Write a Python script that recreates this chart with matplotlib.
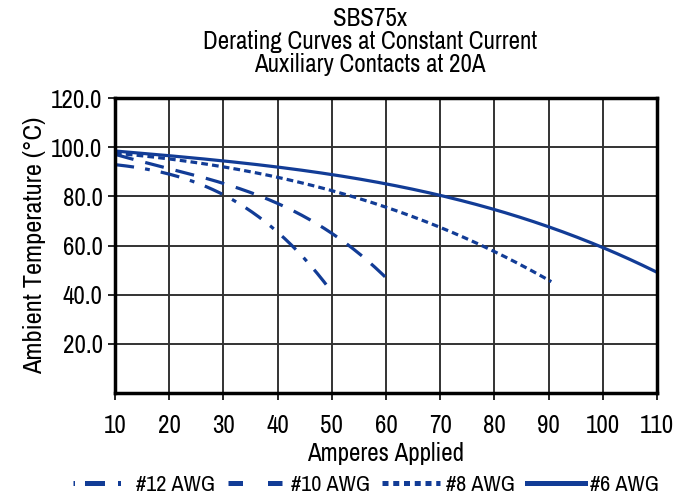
import matplotlib
matplotlib.use("Agg")
import matplotlib.pyplot as plt
from matplotlib.lines import Line2D
import numpy as np
from matplotlib import font_manager

fams = {f.name for f in font_manager.fontManager.ttflist}
fam = "Liberation Sans"
for cand in ["Arial Narrow", "Liberation Sans Narrow", "Archivo Narrow", "PT Sans Narrow",
             "Roboto Condensed", "Arimo", "Open Sans Condensed"]:
    if cand in fams:
        fam = cand
        break
plt.rcParams['font.family'] = [fam, 'DejaVu Sans']

x12 = [10, 20, 30, 40, 50]
y12 = [93.0, 88.6, 81.3, 65.0, 41.2]
x10 = [10, 20, 30, 40, 50, 60]
y10 = [97.0, 91.5, 85.4, 76.4, 65.6, 46.7]
x8 = [10, 20, 30, 40, 50, 60, 70, 80, 90.5]
y8 = [97.5, 95.0, 92.5, 88.0, 82.0, 75.0, 67.0, 58.9, 44.7]
x6 = [10, 20, 30, 40, 50, 60, 70, 80, 90, 100, 110]
y6 = [98.3, 96.7, 94.4, 92.0, 88.9, 85.0, 80.0, 74.8, 67.5, 59.7, 48.8]
labels = ["#12 AWG", "#10 AWG", "#8 AWG", "#6 AWG"]
xticks = list(range(10, 111, 10))
yticks = [20, 40, 60, 80, 100, 120]

color = '#123C96'
fs = 18

fig = plt.figure(figsize=(6.87, 4.96), dpi=100)
ax = fig.add_axes([115/687, 1-393/496, (657-115)/687, (393-98)/496])

def smooth(xs, ys):
    xs = np.array(xs, float); ys = np.array(ys, float)
    xx = np.linspace(xs[0], xs[-1], 300)
    c = np.polyfit(xs, ys, min(3, len(xs)-1))
    return xx, np.polyval(c, xx)

lw = 2.3
ax.plot(*smooth(x12, y12), color=color, lw=lw, dashes=(6, 3.5, 1.5, 3.5))
ax.plot(*smooth(x10, y10), color=color, lw=lw, dashes=(6, 3.8))
ax.plot(*smooth(x8, y8), color=color, lw=lw, dashes=(2.1, 1.3))
ax.plot(*smooth(x6, y6), color=color, lw=lw)

ax.set_xlim(10, 110)
ax.set_ylim(0, 120)
ax.set_xticks(xticks)
ax.set_yticks(yticks)
ax.set_yticklabels([f"{v:.1f}" for v in yticks])
ax.grid(True, color='#333333', lw=1.4)
ax.set_axisbelow(True)
for s in ax.spines.values():
    s.set_linewidth(2.5)
    s.set_color('black')
ax.tick_params(labelsize=fs, length=5, width=1.2, direction='out')
ax.tick_params(axis='x', pad=10)
ax.tick_params(axis='y', pad=4)
ax.set_xlabel("Amperes Applied", fontsize=fs, labelpad=4)
ax.set_ylabel("Ambient Temperature (°C)", fontsize=fs + 1, labelpad=4)

fig.text(0.538, 0.985, "SBS75x\nDerating Curves at Constant Current\nAuxiliary Contacts at 20A",
         ha='center', va='top', fontsize=fs, linespacing=1.0)

hlw = 3.6
handles = [
    Line2D([], [], color=color, lw=hlw, dashes=(0.3, 2.0, 4.0, 2.6, 0.6, 2.6, 4.0, 0.1)),
    Line2D([], [], color=color, lw=hlw, dashes=(2.9, 5.0)),
    Line2D([], [], color=color, lw=hlw, dashes=(1.2, 0.95)),
    Line2D([], [], color=color, lw=hlw),
]
fig.legend(handles=handles, labels=labels, loc='center', ncol=4, frameon=False,
           fontsize=16, handlelength=2.6, handletextpad=0.25, columnspacing=0.55,
           bbox_to_anchor=(366/687, 1-485/496), borderpad=0, borderaxespad=0)
fig.savefig("out.png", dpi=100)
